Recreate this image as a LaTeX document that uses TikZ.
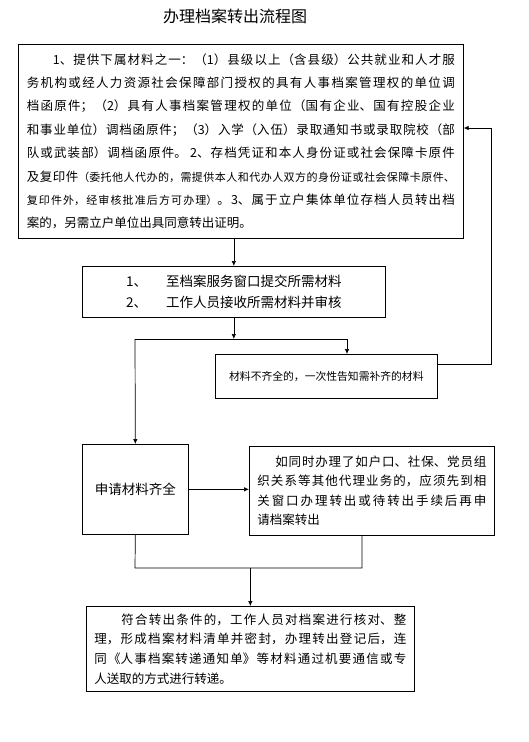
\documentclass[tikz,border=0pt]{standalone}
\usepackage{fontspec}
\setmainfont{Noto Sans CJK SC}
\usetikzlibrary{arrows.meta, positioning, calc}
\XeTeXlinebreaklocale "zh"
\XeTeXlinebreakskip=0pt plus 4pt

\begin{document}
\begin{tikzpicture}[x=1pt, y=-1pt, line width=0.7pt,
    >={Latex[length=5pt,width=4.5pt]},
    flowbox/.style={draw, anchor=north west, inner xsep=8pt, inner ysep=3pt},
    bodytext/.style={font={\fontsize{12.5}{#1}\selectfont}, align=justify}]
    \useasboundingbox (0,0) rectangle (529,742);

    \node[font={\fontsize{16}{18}\selectfont}] (title) at (235,16) {办理档案转出流程图};

    % Materials to hand in
    \node[flowbox, bodytext=23.4, inner xsep=8.5pt, text width=428pt, minimum height=194pt] (req) at (18,44)
        {\noindent\hspace*{26pt}1、提供下属材料之一：（1）县级以上（含县级）公共就业和人才服\linebreak
        务机构或经人力资源社会保障部门授权的具有人事档案管理权的单位调\linebreak
        档函原件；（2）具有人事档案管理权的单位（国有企业、国有控股企业\linebreak
        和事业单位）调档函原件；（3）入学（入伍）录取通知书或录取院校（部\linebreak
        队或武装部）调档函原件。 2、存档凭证和本人身份证或社会保障卡原件\linebreak
        及复印件{\fontsize{11}{23.4}\selectfont（委托他人代办的，需提供本人和代办人双方的身份证或社会保障卡原件、\linebreak
        复印件外，经审核批准后方可办理）}。3、属于立户集体单位存档人员转出档\linebreak
        案的，另需立户单位出具同意转出证明。};

    \node[flowbox, align=left, minimum width=303pt, minimum height=51pt,
          font={\fontsize{13.5}{21}\selectfont}] (sub) at (82,266)
        {\makebox[40pt][l]{1、}至档案服务窗口提交所需材料\\
         \makebox[40pt][l]{2、}工作人员接收所需材料并审核};

    \node[flowbox, minimum width=222pt, minimum height=44pt,
          font={\fontsize{10.8}{13}\selectfont}] (lack) at (215,354)
        {材料不齐全的，一次性告知需补齐的材料};

    \node[flowbox, minimum width=106pt, minimum height=90pt,
          font={\fontsize{13.5}{16}\selectfont}] (full) at (82,444) {申请材料齐全};

    \node[flowbox, bodytext=19.4, text width=229pt, minimum height=89pt] (other) at (249,446)
        {\noindent\hspace*{18pt}如同时办理了如户口、社保、党员组\linebreak
        织关系等其他代理业务的，应须先到相\linebreak
        关窗口办理转出或待转出手续后再申\linebreak
        请档案转出};

    \node[flowbox, bodytext=19.7, text width=312pt, minimum height=85pt] (done) at (86,606)
        {\noindent\hspace*{27pt}符合转出条件的，工作人员对档案进行核对、整\linebreak
        理，形成档案材料清单并密封，办理转出登记后，连\linebreak
        同《人事档案转递通知单》等材料通过机要通信或专\linebreak
        人送取的方式进行转递。};

    % Split after checking
    \coordinate (splitL) at (135,339);
    \coordinate (splitR) at (347,339);
    \coordinate (back) at (491,128);
    \coordinate (mergeL) at (135,568);
    \coordinate (mergeR) at (362,568);

    \draw[->] (sub.north |- req.south) -- (sub.north);
    \draw[->] (sub.south) -- (sub.south |- splitL);
    \draw (splitL) -- (splitR);
    \draw[->] (splitL) -- (full.north);
    \draw[->] (splitR) -- (splitR |- lack.north);

    % Back to the materials when something is missing
    \draw[->] ([yshift=12pt]lack.east) -| (back) -- (back -| req.east);

    \draw[->] (full.east) -- (full.east -| other.west);

    % Both branches meet before the transfer
    \draw (full.south) -- (mergeL) -- (mergeR) -- (mergeR |- other.south);
    \draw[->] (done.north |- mergeL) -- (done.north);
\end{tikzpicture}
\end{document}
